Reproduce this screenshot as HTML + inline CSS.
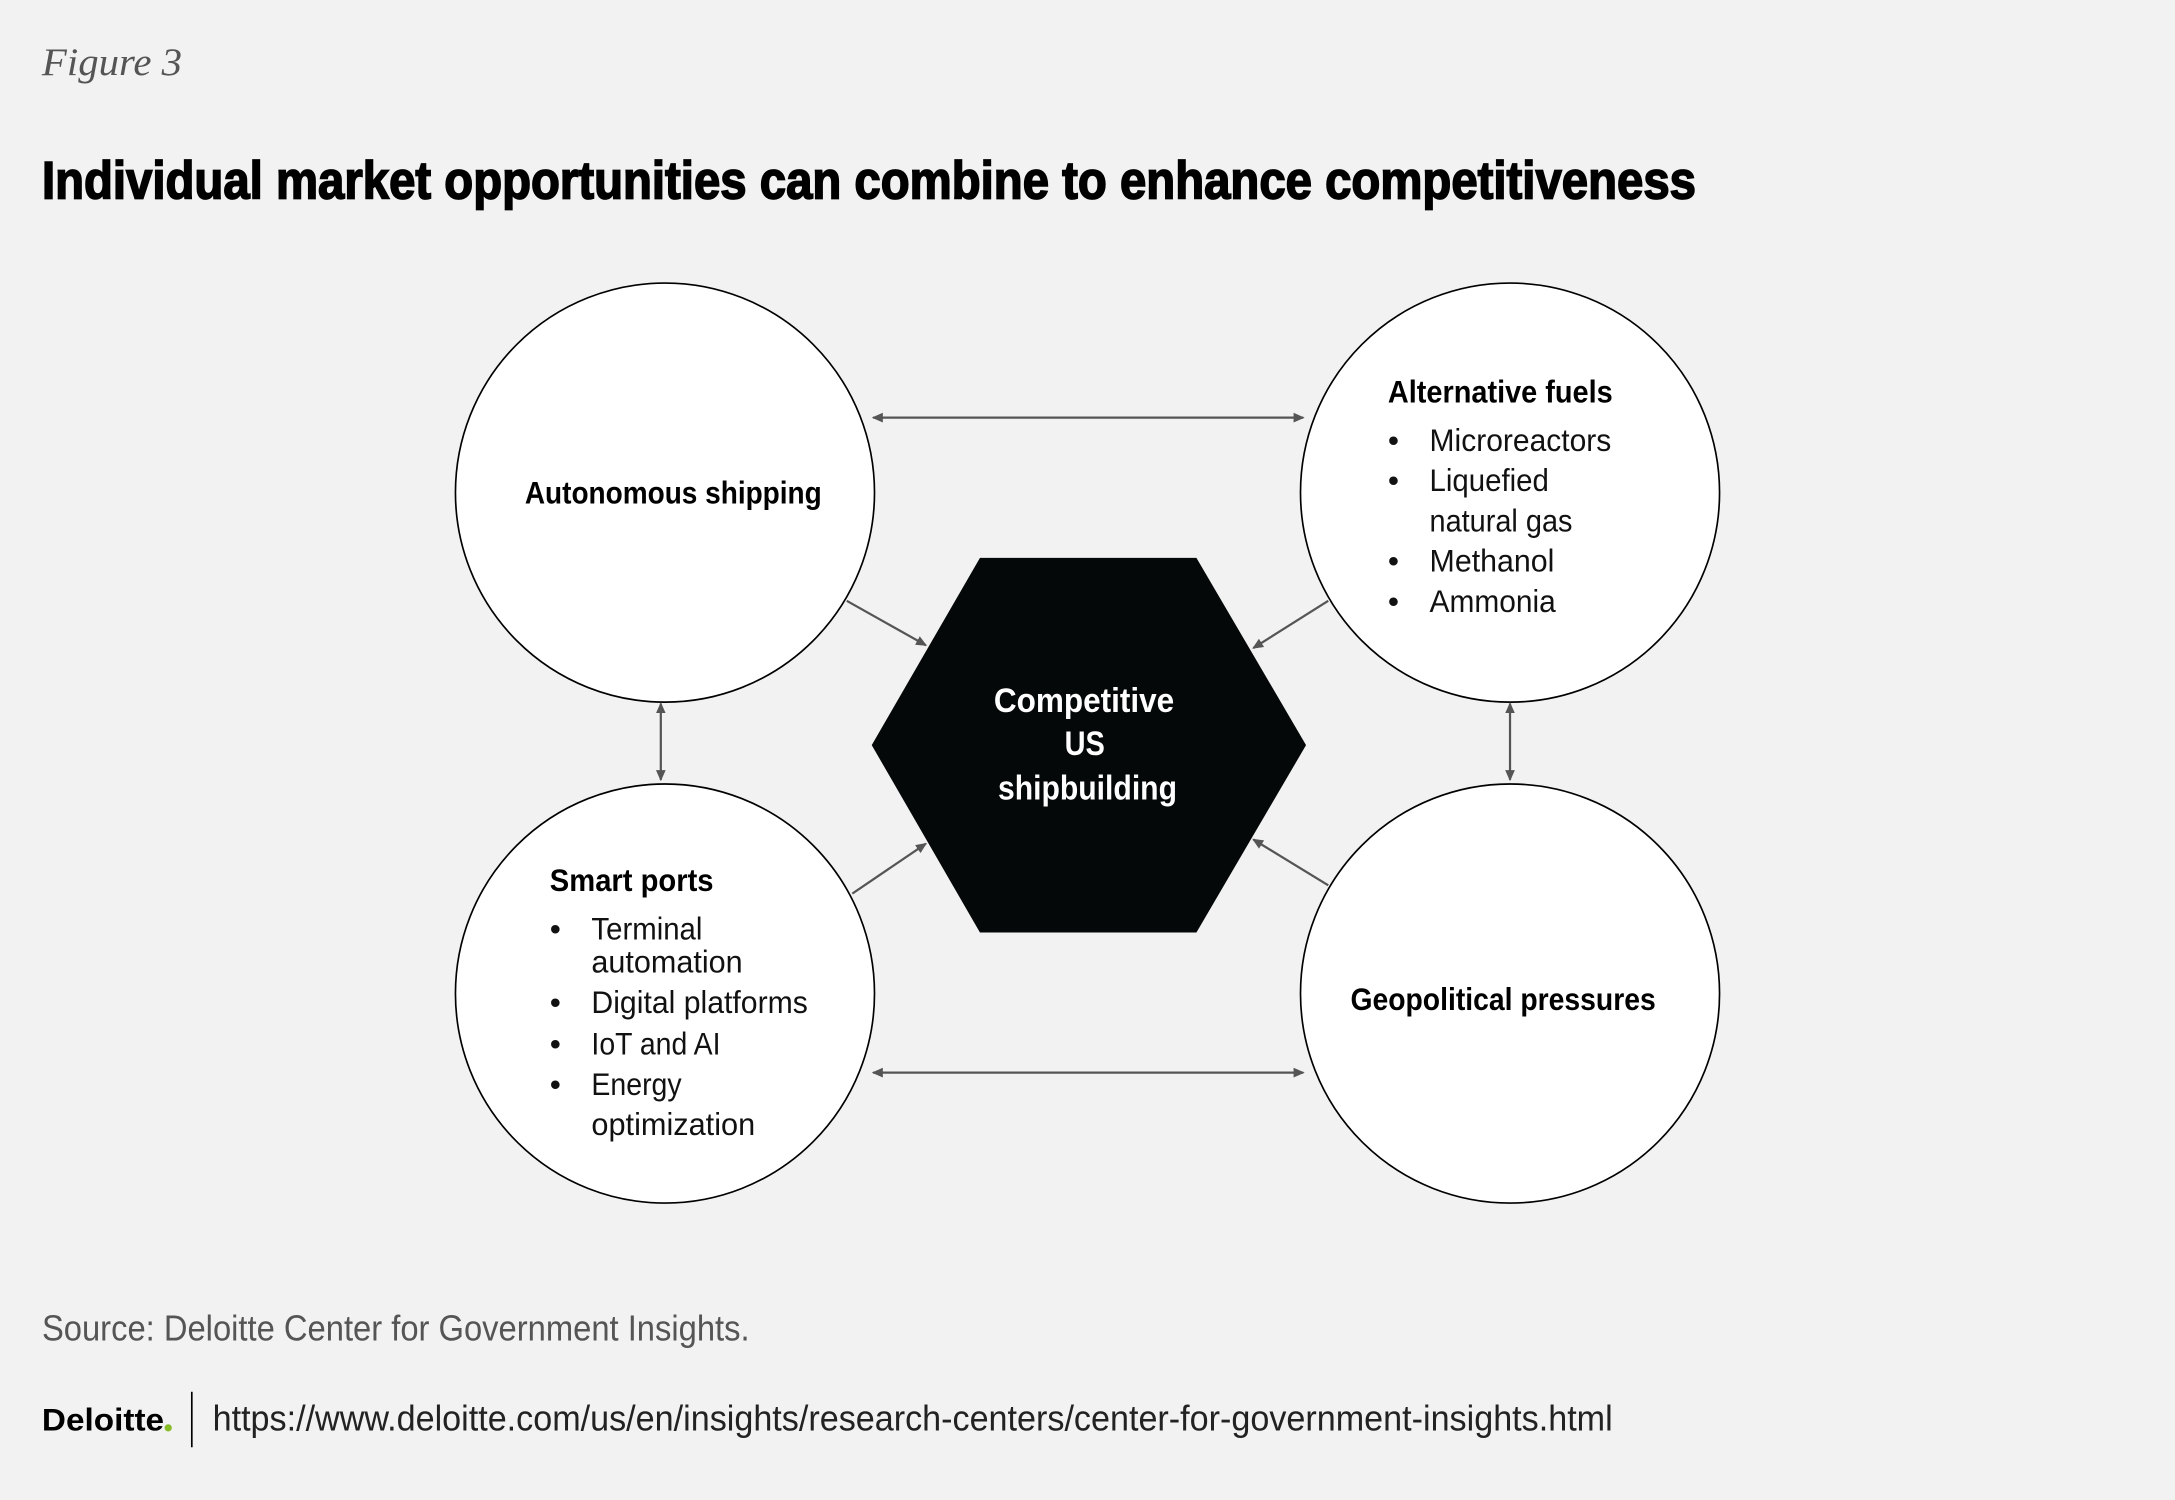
<!DOCTYPE html>
<html><head><meta charset="utf-8"><style>
html,body{margin:0;padding:0;background:#f2f2f2;}
svg{display:block}
</style></head><body>
<svg width="2175" height="1500" viewBox="0 0 1567 1081" xmlns="http://www.w3.org/2000/svg" font-family="Liberation Sans Narrow, Liberation Sans, sans-serif">
<defs><marker id="a" markerWidth="8" markerHeight="8" refX="7" refY="4" orient="auto-start-reverse" markerUnits="userSpaceOnUse"><path d="M0,0.5 L8,4 L0,7.5 z" fill="#555"/></marker></defs>
<rect width="1567" height="1081" fill="#f2f2f2"/>
<text x="30" y="54" font-family="Liberation Serif, serif" font-style="italic" font-size="28" fill="#555" textLength="101" lengthAdjust="spacingAndGlyphs">Figure 3</text>
<text x="30" y="143" font-family="Liberation Sans, sans-serif" font-weight="bold" font-size="38" fill="#000" stroke="#000" stroke-width="1.2" textLength="1192" lengthAdjust="spacingAndGlyphs">Individual market opportunities can combine to enhance competitiveness</text>
<g fill="#fff" stroke="#000" stroke-width="1.2">
<circle cx="479" cy="355" r="151"/><circle cx="1088" cy="355" r="151"/>
<circle cx="479" cy="716" r="151"/><circle cx="1088" cy="716" r="151"/>
</g>
<polygon points="628,537 706,402 862,402 941,537 862,672 706,672" fill="#050808"/>
<g stroke="#555" stroke-width="1.6" fill="none">
<line x1="629" y1="301" x2="939" y2="301" marker-start="url(#a)" marker-end="url(#a)"/>
<line x1="629" y1="773" x2="939" y2="773" marker-start="url(#a)" marker-end="url(#a)"/>
<line x1="476" y1="507" x2="476" y2="562" marker-start="url(#a)" marker-end="url(#a)"/>
<line x1="1088" y1="507" x2="1088" y2="562" marker-start="url(#a)" marker-end="url(#a)"/>
<line x1="610" y1="433" x2="667" y2="465" marker-end="url(#a)"/>
<line x1="957" y1="433" x2="903" y2="467" marker-end="url(#a)"/>
<line x1="614" y1="644" x2="667" y2="608" marker-end="url(#a)"/>
<line x1="957" y1="638" x2="903" y2="605" marker-end="url(#a)"/>
</g>
<g font-weight="bold" font-size="23" fill="#000">
<text x="378" y="363" textLength="214" lengthAdjust="spacingAndGlyphs">Autonomous shipping</text>
<text x="1000" y="290" textLength="162" lengthAdjust="spacingAndGlyphs">Alternative fuels</text>
<text x="396" y="642" textLength="118" lengthAdjust="spacingAndGlyphs">Smart ports</text>
<text x="973" y="728" textLength="220" lengthAdjust="spacingAndGlyphs">Geopolitical pressures</text>
</g>
<g font-weight="bold" font-size="25" fill="#fff">
<text x="716" y="513" textLength="130" lengthAdjust="spacingAndGlyphs">Competitive</text>
<text x="767" y="544" textLength="29" lengthAdjust="spacingAndGlyphs">US</text>
<text x="719" y="576" textLength="129" lengthAdjust="spacingAndGlyphs">shipbuilding</text>
</g>
<g font-size="23" fill="#111">
<text x="1000" y="325">•</text><text x="1030" y="325" textLength="131" lengthAdjust="spacingAndGlyphs">Microreactors</text>
<text x="1000" y="354">•</text><text x="1030" y="354" textLength="86" lengthAdjust="spacingAndGlyphs">Liquefied</text>
<text x="1030" y="383" textLength="103" lengthAdjust="spacingAndGlyphs">natural gas</text>
<text x="1000" y="412">•</text><text x="1030" y="412" textLength="90" lengthAdjust="spacingAndGlyphs">Methanol</text>
<text x="1000" y="441">•</text><text x="1030" y="441" textLength="91" lengthAdjust="spacingAndGlyphs">Ammonia</text>
<text x="396" y="677">•</text><text x="426" y="677" textLength="80" lengthAdjust="spacingAndGlyphs">Terminal</text>
<text x="426" y="701" textLength="109" lengthAdjust="spacingAndGlyphs">automation</text>
<text x="396" y="730">•</text><text x="426" y="730" textLength="156" lengthAdjust="spacingAndGlyphs">Digital platforms</text>
<text x="396" y="760">•</text><text x="426" y="760" textLength="93" lengthAdjust="spacingAndGlyphs">IoT and AI</text>
<text x="396" y="789">•</text><text x="426" y="789" textLength="65" lengthAdjust="spacingAndGlyphs">Energy</text>
<text x="426" y="818" textLength="118" lengthAdjust="spacingAndGlyphs">optimization</text>
</g>
<text x="30" y="966" font-size="26" fill="#555" textLength="510" lengthAdjust="spacingAndGlyphs">Source: Deloitte Center for Government Insights.</text>
<text x="30" y="1031" font-family="Liberation Sans, sans-serif" font-weight="bold" font-size="23" fill="#000" textLength="88" lengthAdjust="spacingAndGlyphs">Deloitte</text>
<circle cx="121" cy="1029" r="2.6" fill="#86bc25"/>
<line x1="138" y1="1003" x2="138" y2="1043" stroke="#000" stroke-width="1.2"/>
<text x="153" y="1031" font-size="26" fill="#222" textLength="1009" lengthAdjust="spacingAndGlyphs">https://www.deloitte.com/us/en/insights/research-centers/center-for-government-insights.html</text>
</svg>
</body></html>
